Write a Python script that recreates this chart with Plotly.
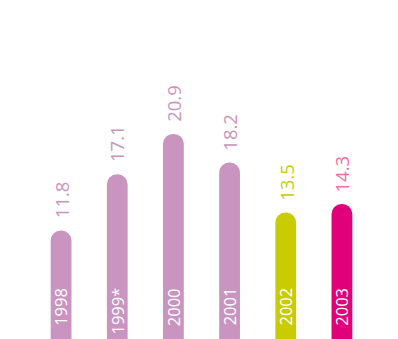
import plotly.graph_objects as go

years = ["1998", "1999*", "2000", "2001", "2002", "2003"]
values = [11.8, 17.1, 20.9, 18.2, 13.5, 14.3]
bar_colors = ["#c994c0", "#c994c0", "#c994c0", "#c994c0", "#c8cc00", "#e2007a"]
label_colors = ["#c994c0", "#c994c0", "#c994c0", "#c994c0", "#c8cc00", "#ec6fa0"]
value_labels = ["11.8", "17.1", "20.9", "18.2", "13.5", "14.3"]

FONT = "Open Sans, sans-serif"

fig = go.Figure()
fig.add_trace(go.Bar(
    x=years, y=values,
    marker=dict(color=bar_colors, line=dict(width=0), cornerradius=10),
    hoverinfo="skip",
))

annotations = []
for i, (yr, v, lab, c) in enumerate(zip(years, values, value_labels, label_colors)):
    annotations.append(dict(
        x=i, y=v, xref="x", yref="y", text=lab, textangle=-90,
        showarrow=False, xanchor="center", yanchor="bottom", yshift=10,
        font=dict(family=FONT, size=18.5, color=c),
    ))
    annotations.append(dict(
        x=i, y=0.157, xref="x", yref="paper", text=yr, textangle=-90,
        showarrow=False, xanchor="center", yanchor="top", yshift=0,
        font=dict(family=FONT, size=16.5, color="white"),
    ))

fig.update_layout(
    width=398, height=339,
    margin=dict(l=33, r=28, t=0, b=0),
    paper_bgcolor="white", plot_bgcolor="white",
    showlegend=False,
    xaxis=dict(visible=False, type="category", categoryorder="array",
               categoryarray=years, range=[-0.5, len(years) - 0.5]),
    yaxis=dict(visible=False, range=[1.6, 33.5]),
    annotations=annotations,
    bargap=0.63,
)

fig.write_html("out.html", config={"displayModeBar": False})
